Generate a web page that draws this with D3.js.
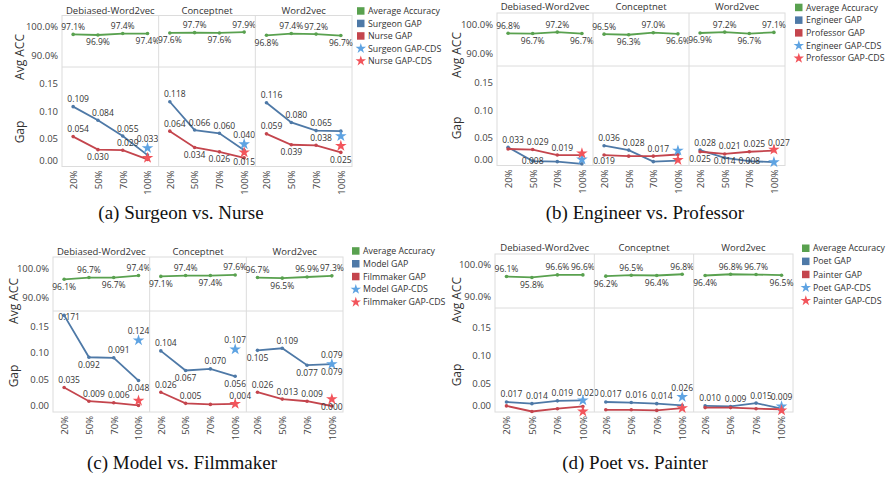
<!DOCTYPE html>
<html lang="en">
<head>
<meta charset="UTF-8">
<title>GAP by training ratio</title>
<script src="https://cdn.jsdelivr.net/npm/d3@7"></script>
<style>
  * { margin: 0; padding: 0; }
  body { background: #fff; }
  svg { display: block; font-family: "Open Sans", sans-serif; }
  .caption { font-family: "Liberation Serif", serif; font-size: 19px; fill: #111; }
  .tick text { fill: #444; }
</style>
</head>
<body>
<svg id="chart" width="891" height="484"></svg>
<script>
// shared categories
var embeddings = ["Debiased-Word2vec", "Conceptnet", "Word2vec"];
var ratios = ["20%", "50%", "70%", "100%"];
var accTicks = [90, 100];
var gapTicks = [0, 0.05, 0.10, 0.15];

// (a) Surgeon vs. Nurse  -- one row per embedding
var accSurgeonNurse = [[97.1, 96.9, 97.4, 97.4], [97.6, 97.7, 97.6, 97.9], [96.8, 97.4, 97.2, 96.7]];
var gapSurgeon = [[0.109, 0.084, 0.055, 0.020], [0.118, 0.066, 0.060, 0.029], [0.116, 0.080, 0.065, 0.064]];
var gapNurse = [[0.054, 0.030, 0.029, 0.012], [0.064, 0.034, 0.026, 0.015], [0.059, 0.039, 0.038, 0.025]];
var cdsSurgeon = [0.033, 0.040, 0.055];
var cdsNurse = [0.015, 0.025, 0.037];

// (b) Engineer vs. Professor
var accEngineerProfessor = [[96.8, 96.7, 97.2, 96.7], [96.5, 96.3, 97.0, 96.6], [96.9, 97.2, 96.7, 97.1]];
var gapEngineer = [[0.033, 0.008, 0.007, 0.003], [0.036, 0.028, 0.007, 0.009], [0.028, 0.014, 0.008, 0.006]];
var gapProfessor = [[0.030, 0.029, 0.019, 0.019], [0.019, 0.017, 0.017, 0.020], [0.025, 0.021, 0.025, 0.027]];
var cdsEngineer = [0.011, 0.027, 0.006];
var cdsProfessor = [0.022, 0.010, 0.029];

// (c) Model vs. Filmmaker
var accModelFilmmaker = [[96.1, 96.7, 96.7, 97.4], [97.1, 97.4, 97.4, 97.6], [96.7, 96.5, 96.9, 97.3]];
var gapModel = [[0.171, 0.092, 0.091, 0.048], [0.104, 0.067, 0.070, 0.056], [0.105, 0.109, 0.077, 0.079]];
var gapFilmmaker = [[0.035, 0.009, 0.006, 0.001], [0.026, 0.005, 0.003, 0.004], [0.026, 0.013, 0.009, 0.000]];
var cdsModel = [0.124, 0.107, 0.079];
var cdsFilmmaker = [0.010, 0.004, 0.013];

// (d) Poet vs. Painter
var accPoetPainter = [[96.1, 95.8, 96.6, 96.6], [96.2, 96.5, 96.4, 96.8], [96.4, 96.8, 96.7, 96.5]];
var gapPoet = [[0.017, 0.014, 0.019, 0.020], [0.017, 0.016, 0.014, 0.011], [0.010, 0.009, 0.015, 0.005]];
var gapPainter = [[0.010, 0.000, 0.005, 0.009], [0.003, 0.003, 0.002, 0.006], [0.007, 0.007, 0.005, 0.004]];
var cdsPoet = [0.020, 0.026, 0.009];
var cdsPainter = [0.000, 0.006, 0.002];

// label placement: 1 above, -1 below, 0 hidden (tableau drops overlapping ones)
var labA = {
  acc: [[1, -1, 1, -1], [-1, 1, -1, 1], [-1, 1, 1, -1]],
  a: [[1, 1, 1, 0], [1, 1, 1, 0], [1, 1, 1, 0]],
  b: [[1, -1, 1, 0], [1, -1, -1, -1], [1, -1, 1, -1]],
  cdsA: [1, 1, 0], cdsB: [0, 0, 0]
};
var labB = {
  acc: [[1, -1, 1, -1], [1, -1, 1, -1], [-1, 1, -1, 1]],
  a: [[1, -1, 0, 0], [1, 1, 0, 0], [1, -1, -1, 0]],
  b: [[0, 1, 1, 0], [-1, 0, 1, 0], [-1, 1, 1, 1]],
  cdsA: [0, 0, 0], cdsB: [0, 0, 0]
};
var labC = {
  acc: [[-1, 1, -1, 1], [-1, 1, -1, 1], [1, -1, 1, 1]],
  a: [[1, -1, 1, -1], [1, -1, 1, -1], [-1, 1, -1, -1]],
  b: [[1, 1, 1, 0], [1, 1, 0, 1], [1, 1, 1, -1]],
  cdsA: [1, 1, 1], cdsB: [0, 0, 0]
};
var labD = {
  acc: [[1, -1, 1, 1], [-1, 1, -1, 1], [-1, 1, 1, -1]],
  a: [[1, 1, 1, 1], [1, 1, 1, 0], [1, 1, 1, 0]],
  b: [[0, 0, 0, 0], [0, 0, 0, 0], [0, 0, 0, 0]],
  cdsA: [0, 1, 1], cdsB: [0, 0, 0]
};

var figures = [
  {caption: "(a) Surgeon vs. Nurse", pair: ["Surgeon", "Nurse"], acc: accSurgeonNurse,
   gapA: gapSurgeon, gapB: gapNurse, cdsA: cdsSurgeon, cdsB: cdsNurse, lab: labA},
  {caption: "(b) Engineer vs. Professor", pair: ["Engineer", "Professor"], acc: accEngineerProfessor,
   gapA: gapEngineer, gapB: gapProfessor, cdsA: cdsEngineer, cdsB: cdsProfessor, lab: labB},
  {caption: "(c) Model vs. Filmmaker", pair: ["Model", "Filmmaker"], acc: accModelFilmmaker,
   gapA: gapModel, gapB: gapFilmmaker, cdsA: cdsModel, cdsB: cdsFilmmaker, lab: labC},
  {caption: "(d) Poet vs. Painter", pair: ["Poet", "Painter"], acc: accPoetPainter,
   gapA: gapPoet, gapB: gapPainter, cdsA: cdsPoet, cdsB: cdsPainter, lab: labD}
];

// where each sub-figure sits on the page
var layouts = [
  {x0: 62, x1: 352, top: 15.5, mid: 67, bottom: 166.5, y100: 26, y90: 55, g0: 166, g15: 84.3,
   clipW: 448, titleX: 20, accTitleY: 57, gapTitleY: 132, headY: 14,
   legX: 357, legY: 11, legStep: 12.5, capX: 181, capY: 219},
  {x0: 497, x1: 785, top: 13, mid: 66, bottom: 165.5, y100: 24, y90: 53, g0: 165.5, g15: 83,
   clipW: null, titleX: 457, accTitleY: 55, gapTitleY: 128, headY: 10,
   legX: 795, legY: 7.5, legStep: 12.7, capX: 645, capY: 219},
  {x0: 53, x1: 343, top: 257, mid: 311, bottom: 412, y100: 268, y90: 297, g0: 406, g15: 326.5,
   clipW: 448, titleX: 14, accTitleY: 301, gapTitleY: 376, headY: 255,
   legX: 352, legY: 251, legStep: 12.8, capX: 182, capY: 469},
  {x0: 495, x1: 793, top: 254, mid: 308, bottom: 412, y100: 264, y90: 296, g0: 411.5, g15: 327.5,
   clipW: null, titleX: 457, accTitleY: 300, gapTitleY: 375, headY: 251,
   legX: 802, legY: 248.3, legStep: 13.1, capX: 635, capY: 469}
];

var colGreen = "#59a14f", colBlue = "#4e79a7", colRed = "#c4454d";
var colStarBlue = "#5ea3e2", colStarRed = "#f2545b";
var gridCol = "#dcdcdc", textCol = "#333";

var svg = d3.select("#chart");
svg.append("defs").append("clipPath").attr("id", "leftClip")
  .append("rect").attr("x", 0).attr("y", 0).attr("width", 448).attr("height", 484);

var star = d3.symbol().type(d3.symbolStar).size(42);
var fmtAcc = function(v) { return v.toFixed(1) + "%"; };
var fmtGap = function(v) { return v.toFixed(3); };

function drawFigure(fig, L) {
  var g = svg.append("g");
  if (L.clipW) g.attr("clip-path", "url(#leftClip)");
  var paneW = (L.x1 - L.x0) / 3;
  var yAcc = d3.scaleLinear().domain([90, 100]).range([L.y90, L.y100]);
  var yGap = d3.scaleLinear().domain([0, 0.15]).range([L.g0, L.g15]);

  function labelY(y, pos, lo, hi) {
    var b = pos > 0 ? y - 4.5 : y + 10.5;
    return Math.max(lo, Math.min(hi, b));
  }

  // borders
  g.append("rect").attr("x", L.x0).attr("y", L.top).attr("width", L.x1 - L.x0).attr("height", L.bottom - L.top)
    .attr("fill", "none").attr("stroke", gridCol).attr("stroke-width", 1);
  g.append("line").attr("x1", L.x0).attr("x2", L.x1).attr("y1", L.mid).attr("y2", L.mid)
    .attr("stroke", gridCol).attr("stroke-width", 1);

  // y axes
  var accAxis = g.append("g").attr("transform", "translate(" + (L.x0 - 4) + ",0)")
    .call(d3.axisLeft(yAcc).tickValues(accTicks).tickFormat(fmtAcc).tickSize(0).tickPadding(0));
  var gapAxis = g.append("g").attr("transform", "translate(" + (L.x0 - 4) + ",0)")
    .call(d3.axisLeft(yGap).tickValues(gapTicks).tickFormat(d3.format(".2f")).tickSize(0).tickPadding(0));
  [accAxis, gapAxis].forEach(function(ax) {
    ax.select(".domain").remove();
    ax.selectAll("text").style("font-size", "9.5px").style("font-family", "Open Sans");
  });
  // tableau pulls the edge label inside the pane
  gapAxis.selectAll(".tick").attr("transform", function(d) {
    return "translate(0," + Math.min(yGap(d), L.bottom - 6) + ")";
  });

  g.append("text").attr("transform", "translate(" + L.titleX + "," + L.accTitleY + ") rotate(-90)")
    .attr("text-anchor", "middle").attr("dy", "0.35em").style("font-size", "12px").attr("fill", textCol)
    .text("Avg ACC");
  g.append("text").attr("transform", "translate(" + L.titleX + "," + L.gapTitleY + ") rotate(-90)")
    .attr("text-anchor", "middle").attr("dy", "0.35em").style("font-size", "12px").attr("fill", textCol)
    .text("Gap");

  embeddings.forEach(function(emb, k) {
    var left = L.x0 + k * paneW;
    var x = d3.scalePoint().domain(ratios).range([left, left + paneW]).padding(0.45);
    var px = function(d, i) { return x(ratios[i]); };

    if (k > 0) {
      g.append("line").attr("x1", left).attr("x2", left).attr("y1", L.top).attr("y2", L.bottom)
        .attr("stroke", gridCol).attr("stroke-width", 1);
    }
    g.append("text").attr("x", left + paneW / 2).attr("y", L.headY).attr("text-anchor", "middle")
      .style("font-size", "9.5px").attr("fill", textCol).text(emb);

    // x axis
    var xa = g.append("g").attr("transform", "translate(0," + L.bottom + ")")
      .call(d3.axisBottom(x).tickSize(0));
    xa.select(".domain").remove();
    xa.selectAll("text").attr("transform", "rotate(-90)").attr("x", -4).attr("y", 0)
      .attr("dy", "0.35em").style("text-anchor", "end").style("font-size", "9.5px")
      .style("font-family", "Open Sans");

    // accuracy row
    var accRow = fig.acc[k];
    g.append("path").datum(accRow).attr("fill", "none").attr("stroke", colGreen).attr("stroke-width", 1.8)
      .attr("d", d3.line().x(px).y(function(d) { return yAcc(d); }));
    g.selectAll(null).data(accRow).enter().append("circle")
      .attr("cx", px).attr("cy", function(d) { return yAcc(d); }).attr("r", 1.8).attr("fill", colGreen);
    g.selectAll(null).data(accRow).enter().append("text")
      .attr("x", px).attr("y", function(d, i) { return labelY(yAcc(d), fig.lab.acc[k][i], L.top + 8, L.mid - 2); })
      .attr("text-anchor", "middle").style("font-size", "8.5px").attr("fill", textCol)
      .text(fmtAcc);

    // gap rows
    [[fig.gapA[k], colBlue, fig.lab.a[k]], [fig.gapB[k], colRed, fig.lab.b[k]]].forEach(function(s) {
      var vals = s[0], pos = s[2];
      g.append("path").datum(vals).attr("fill", "none").attr("stroke", s[1]).attr("stroke-width", 1.8)
        .attr("d", d3.line().x(px).y(function(d) { return yGap(d); }));
      g.selectAll(null).data(vals).enter().append("circle")
        .attr("cx", px).attr("cy", function(d) { return yGap(d); }).attr("r", 1.8).attr("fill", s[1]);
      var shown = d3.range(vals.length).filter(function(i) { return pos[i] !== 0; });
      g.selectAll(null).data(shown).enter().append("text")
        .attr("x", function(i) { return x(ratios[i]) + (pos[i] > 0 ? 5 : 0); })
        .attr("y", function(i) { return labelY(yGap(vals[i]), pos[i], L.mid + 9, L.bottom - 2); })
        .attr("text-anchor", "middle").style("font-size", "8.5px").attr("fill", textCol)
        .text(function(i) { return fmtGap(vals[i]); });
    });

    // CDS stars at 100%
    [[fig.cdsA[k], colStarBlue, fig.lab.cdsA[k]], [fig.cdsB[k], colStarRed, fig.lab.cdsB[k]]].forEach(function(s) {
      var sx = x("100%"), sy = yGap(s[0]);
      g.append("path").attr("d", star).attr("transform", "translate(" + sx + "," + sy + ")").attr("fill", s[1]);
      if (s[2] !== 0) {
        g.append("text").attr("x", sx).attr("y", labelY(sy, s[2], L.mid + 9, L.bottom - 2) - 1.5)
          .attr("text-anchor", "middle").style("font-size", "8.5px").attr("fill", textCol).text(fmtGap(s[0]));
      }
    });
  });

  // legend
  var items = [
    {name: "Average Accuracy", col: colGreen, shape: "sq"},
    {name: fig.pair[0] + " GAP", col: colBlue, shape: "sq"},
    {name: fig.pair[1] + " GAP", col: colRed, shape: "sq"},
    {name: fig.pair[0] + " GAP-CDS", col: colStarBlue, shape: "star"},
    {name: fig.pair[1] + " GAP-CDS", col: colStarRed, shape: "star"}
  ];
  var leg = g.selectAll(null).data(items).enter().append("g")
    .attr("transform", function(d, i) { return "translate(" + L.legX + "," + (L.legY + i * L.legStep) + ")"; });
  leg.filter(function(d) { return d.shape === "sq"; }).append("rect")
    .attr("x", 0).attr("y", -3.8).attr("width", 7.5).attr("height", 7.5).attr("fill", function(d) { return d.col; });
  leg.filter(function(d) { return d.shape === "star"; }).append("path")
    .attr("d", d3.symbol().type(d3.symbolStar).size(34)).attr("transform", "translate(3.8,0)")
    .attr("fill", function(d) { return d.col; });
  leg.append("text").attr("x", 11).attr("dy", "0.35em").style("font-size", "8.8px").attr("fill", textCol)
    .text(function(d) { return d.name; });

  svg.append("text").attr("class", "caption").attr("x", L.capX).attr("y", L.capY)
    .attr("text-anchor", "middle").text(fig.caption);
}

figures.forEach(function(f, i) { drawFigure(f, layouts[i]); });
</script>
</body>
</html>
